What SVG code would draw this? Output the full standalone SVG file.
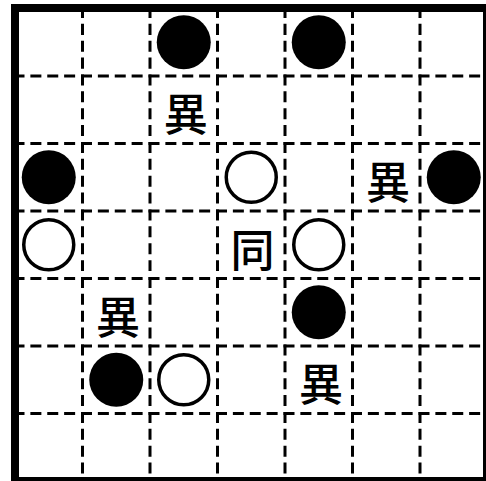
<svg xmlns="http://www.w3.org/2000/svg" width="486" height="481" viewBox="0 0 486 481">
<style>
.frame{fill:#000}
.inner{fill:#fff}
.grid line{stroke:#000;stroke-width:3;stroke-dasharray:11 5.875}
.black{fill:#000}
.white{fill:#fff;stroke:#000;stroke-width:3.5}
.lbl{font-family:"Noto Sans CJK JP","Noto Sans CJK SC",sans-serif;font-size:44px;font-weight:500;fill:#000;text-anchor:middle}
</style>
<rect class="frame" x="11" y="4" width="475" height="477"/>
<rect class="inner" x="19" y="12" width="464" height="465"/>
<g id="grid" class="grid">
<line x1="13.5" y1="76" x2="483" y2="76"/>
<line x1="13.5" y1="143.5" x2="483" y2="143.5"/>
<line x1="13.5" y1="211" x2="483" y2="211"/>
<line x1="13.5" y1="278.5" x2="483" y2="278.5"/>
<line x1="13.5" y1="346" x2="483" y2="346"/>
<line x1="13.5" y1="413.5" x2="483" y2="413.5"/>
<line x1="82.5" y1="7" x2="82.5" y2="477"/>
<line x1="150" y1="7" x2="150" y2="477"/>
<line x1="217.5" y1="7" x2="217.5" y2="477"/>
<line x1="285" y1="7" x2="285" y2="477"/>
<line x1="352.5" y1="7" x2="352.5" y2="477"/>
<line x1="420" y1="7" x2="420" y2="477"/>
</g>
<g id="b1"><circle class="black" cx="183.75" cy="42.25" r="27"/></g>
<g id="b2"><circle class="black" cx="318.75" cy="42.25" r="27"/></g>
<g id="b3"><circle class="black" cx="48.75" cy="177.25" r="27"/></g>
<g id="b4"><circle class="black" cx="453.75" cy="177.25" r="27"/></g>
<g id="b5"><circle class="black" cx="318.75" cy="312.25" r="27"/></g>
<g id="b6"><circle class="black" cx="116.25" cy="379.75" r="27"/></g>
<g id="w1"><circle class="white" cx="251.25" cy="177.25" r="25"/></g>
<g id="w2"><circle class="white" cx="48.75" cy="244.75" r="25"/></g>
<g id="w3"><circle class="white" cx="318.75" cy="244.75" r="25"/></g>
<g id="w4"><circle class="white" cx="183.75" cy="379.75" r="25"/></g>
<g id="t1"><text class="lbl" x="185.75" y="131">異</text></g>
<g id="t2"><text class="lbl" x="388" y="199">異</text></g>
<g id="t3"><text class="lbl" x="118" y="333.7">異</text></g>
<g id="t4"><text class="lbl" x="321" y="401.4">異</text></g>
<g id="t5"><text class="lbl" x="252.5" y="266.7">同</text></g>
</svg>
